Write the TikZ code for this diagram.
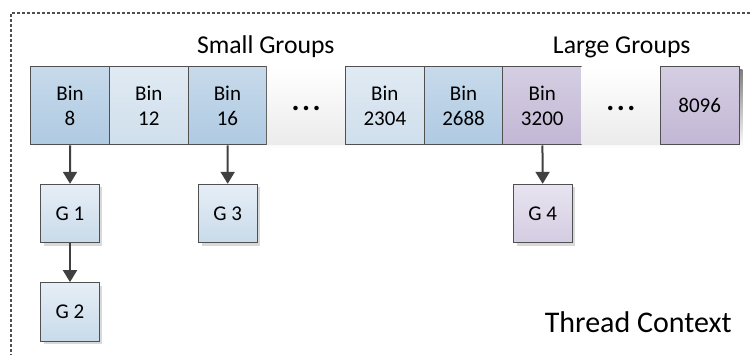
\documentclass[tikz,border=0pt]{standalone}
\usepackage{fontspec}
\setmainfont{Carlito}
\usetikzlibrary{arrows.meta,shadows}
\definecolor{edge}{HTML}{505050}
\definecolor{arrowc}{HTML}{404040}
\definecolor{bluedTop}{HTML}{C7DAEB}
\definecolor{bluedBot}{HTML}{AFCAE2}
\definecolor{bluelTop}{HTML}{E0EAF3}
\definecolor{bluelBot}{HTML}{CFDFEC}
\definecolor{purTop}{HTML}{D5CEE2}
\definecolor{purBot}{HTML}{C2B7D5}
\definecolor{whTop}{HTML}{FFFFFF}
\definecolor{whBot}{HTML}{EBEBEB}
\definecolor{gbTop}{HTML}{E6EEF6}
\definecolor{gbBot}{HTML}{C8DBEA}
\definecolor{gpTop}{HTML}{E8E4F0}
\definecolor{gpBot}{HTML}{D4CCE2}
\definecolor{shade}{HTML}{D9D9D9}
\tikzset{
  cell/.style={draw=edge, line width=1pt, minimum width=78.7pt, minimum height=78.3pt,
    inner sep=0pt, align=center, font=\fontsize{21}{25}\selectfont},
  bluedark/.style={cell, top color=bluedTop, bottom color=bluedBot},
  bluelight/.style={cell, top color=bluelTop, bottom color=bluelBot},
  purple/.style={cell, top color=purTop, bottom color=purBot},
  blank/.style={cell, draw=none, top color=whTop, bottom color=whBot},
  ellipsis/.style={inner sep=0pt, font=\fontsize{30}{30}\selectfont\bfseries},
  gbox/.style={draw=edge, line width=1pt, minimum width=58.6pt, minimum height=58.4pt,
    inner sep=0pt, font=\fontsize{21}{25}\selectfont,
    drop shadow={shadow xshift=3pt, shadow yshift=-3pt, fill=shade, opacity=1}},
  gblue/.style={gbox, top color=gbTop, bottom color=gbBot},
  gpurple/.style={gbox, top color=gpTop, bottom color=gpBot},
  link/.style={draw=arrowc, line width=2pt, -{Triangle[width=14pt,length=12pt]}},
  title/.style={anchor=base, inner sep=0pt},
  frame/.style={draw=edge, line width=1.4pt, dash pattern=on 3pt off 2pt}
}
\newcommand{\bindots}{.\kern2.5pt.\kern2.5pt.}
\begin{document}
\begin{tikzpicture}[x=1pt,y=-1pt]
  \useasboundingbox (0,0) rectangle (751,355);
  % dashed outline of the context
  \coordinate (fbl) at (11,362);
  \coordinate (ftl) at (11,13);
  \coordinate (ftr) at (760,13);
  \draw[frame] (fbl) -- (ftl) -- (ftr);

  % shadow under the bin row
  \fill[shade] (33.7,69.7) rectangle (742.3,148);

  % row of bins
  \node[bluedark]  (b8)    at (70.05,105.85)  {Bin\\8};
  \node[bluelight] (b12)   at (148.75,105.85) {Bin\\12};
  \node[bluedark]  (b16)   at (227.45,105.85) {Bin\\16};
  \node[blank]     (d1)    at (306.15,105.85) {};
  \node[bluelight] (b2304) at (384.85,105.85) {Bin\\2304};
  \node[bluedark]  (b2688) at (463.55,105.85) {Bin\\2688};
  \node[purple]    (b3200) at (542.25,105.85) {Bin\\3200};
  \node[blank]     (d2)    at (620.95,105.85) {};
  \node[purple]    (b8096) at (699.65,105.85) {8096};
  \node[ellipsis, anchor=base] (t1) at (306.15,111) {\bindots};
  \node[ellipsis, anchor=base] (t2) at (620.95,111) {\bindots};

  % group labels
  \node[title, font=\fontsize{25.7}{30}\selectfont] (small) at (265.8,54) {Small Groups};
  \node[title, font=\fontsize{25.7}{30}\selectfont] (large) at (621.7,54) {Large Groups};
  \node[title, font=\fontsize{30}{36}\selectfont] (ctx) at (638.3,332.7) {Thread Context};

  % groups
  \node[gblue]   (g1) at (70,213.5)   {G 1};
  \node[gblue]   (g2) at (70,311.8)   {G 2};
  \node[gblue]   (g3) at (227.8,213.5) {G 3};
  \node[gpurple] (g4) at (542.8,213.5) {G 4};

  % links
  \draw[link] (b8) -- (g1);
  \draw[link] (g1) -- (g2);
  \draw[link] (b16) -- (g3);
  \draw[link] (b3200) -- (g4);
\end{tikzpicture}
\end{document}
